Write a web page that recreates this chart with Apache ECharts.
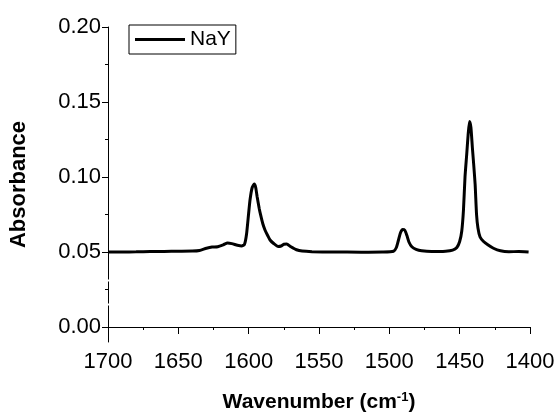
<!DOCTYPE html>
<html>
<head>
<meta charset="utf-8">
<script src="https://cdn.jsdelivr.net/npm/echarts@6/dist/echarts.min.js"></script>
<style>
  html, body { margin: 0; padding: 0; background: #fff; }
  #chart { width: 559px; height: 412px; }
</style>
</head>
<body>
<div id="chart"></div>
<script>
// wavenumber (cm-1) and absorbance
const wavenumbers = [
  1700, 1690, 1680, 1670, 1660, 1650, 1640, 1635, 1630, 1626, 1622, 1618, 1615, 1612, 1608, 1605,
  1603, 1601.5, 1600, 1599, 1597.5, 1596, 1595, 1594, 1592.5, 1591.5, 1590, 1588.4, 1586.5, 1584.8,
  1582, 1579, 1577, 1575, 1573, 1570, 1566, 1562, 1555, 1540, 1520, 1505, 1497, 1495, 1493.5, 1492,
  1490.5, 1489, 1487.5, 1486, 1484, 1481, 1477, 1470, 1460, 1455, 1452, 1450, 1448.5, 1447.3, 1446.2,
  1445, 1444, 1443, 1442, 1441, 1440, 1439, 1438, 1437, 1435.5, 1433, 1430, 1426, 1421, 1415, 1408,
  1404, 1401
];
const absorbance = [
  0.0500, 0.0500, 0.0501, 0.0503, 0.0504, 0.0505, 0.0506, 0.0510, 0.0525, 0.0533, 0.0535, 0.0548, 0.0560, 0.0556, 0.0545, 0.0540,
  0.0550, 0.0620, 0.0760, 0.0850, 0.0930, 0.0953, 0.0930, 0.0870, 0.0790, 0.0747, 0.0690, 0.0647, 0.0610, 0.0580,
  0.0555, 0.0537, 0.0540, 0.0552, 0.0553, 0.0535, 0.0515, 0.0506, 0.0502, 0.0500, 0.0499, 0.0500, 0.0505, 0.0530, 0.0580, 0.0630,
  0.0650, 0.0645, 0.0610, 0.0565, 0.0535, 0.0518, 0.0508, 0.0503, 0.0505, 0.0512, 0.0530, 0.0570, 0.0640, 0.0780, 0.1000,
  0.1150, 0.1280, 0.1370, 0.1330, 0.1200, 0.1080, 0.0950, 0.0750, 0.0660, 0.0600, 0.0570, 0.0548, 0.0525, 0.0508, 0.0502, 0.0503,
  0.0502, 0.0500
];
const yMajorTicks = [0, 0.05, 0.10, 0.15, 0.20];
const yMinorTicks = [0.025, 0.075, 0.125, 0.175];

const font = "'Liberation Sans', Arial, sans-serif";
const chart = echarts.init(document.getElementById("chart"));

const option = {
  animation: false,
  grid: { left: 108, right: 29, top: 27, bottom: 70, outerBoundsMode: "none", containLabel: false },
  legend: {
    left: 129,
    top: 25,
    padding: [4, 5, 4, 6],
    borderColor: "#000",
    borderWidth: 1,
    icon: "rect",
    itemWidth: 50,
    itemHeight: 3,
    textStyle: { fontFamily: font, fontSize: 21, color: "#000" },
    data: ["NaY"]
  },
  xAxis: {
    type: "value",
    inverse: true,
    min: 1400,
    max: 1700,
    interval: 50,
    name: "{a|Wavenumber (cm}{b|-1}{a|)}",
    nameLocation: "middle",
    nameGap: 49,
    nameTextStyle: {
      rich: {
        a: { fontFamily: font, fontSize: 21, fontWeight: "bold", color: "#000" },
        b: { fontFamily: font, fontSize: 13, fontWeight: "bold", color: "#000", verticalAlign: "top", padding: [0, 0, 10, 0] }
      }
    },
    axisLine: { lineStyle: { color: "#000", width: 1 } },
    axisTick: { inside: false, length: 7, lineStyle: { color: "#000" } },
    minorTick: { show: true, splitNumber: 2, length: 3, lineStyle: { color: "#000" } },
    axisLabel: { fontFamily: font, fontSize: 22, color: "#000", margin: 9, formatter: v => String(v) },
    splitLine: { show: false }
  },
  yAxis: [
    {
      type: "value",
      min: -0.01,
      max: 0.2,
      name: "Absorbance",
      nameLocation: "middle",
      nameGap: 78,
      nameTextStyle: { fontFamily: font, fontSize: 22, fontWeight: "bold", color: "#000" },
      axisLine: { show: true, lineStyle: { color: "#000", width: 1 } },
      axisTick: { show: true, length: 6, customValues: yMajorTicks, lineStyle: { color: "#000" } },
      axisLabel: {
        fontFamily: font, fontSize: 22, color: "#000", margin: 7,
        customValues: yMajorTicks,
        padding: [0, 0, 8, 0],
        formatter: v => v.toFixed(2)
      },
      splitLine: { show: false }
    },
    {
      type: "value",
      min: -0.01,
      max: 0.2,
      position: "left",
      axisLine: { show: false },
      axisTick: { show: true, length: 3, customValues: yMinorTicks, lineStyle: { color: "#000" } },
      axisLabel: { show: false },
      splitLine: { show: false }
    }
  ],
  series: [{
    name: "NaY",
    type: "line",
    showSymbol: false,
    symbol: "none",
    smooth: 0.2,
    lineStyle: { color: "#000", width: 3 },
    itemStyle: { color: "#000" },
    data: wavenumbers.map((w, i) => [w, absorbance[i]])
  }]
};
chart.setOption(option);

// little gaps in the y axis line, like the original
const axisX = chart.convertToPixel({ xAxisIndex: 0 }, 1700);
const gaps = [0.031, 0.015].map(v => {
  const y = chart.convertToPixel({ yAxisIndex: 0 }, v);
  return { type: "rect", shape: { x: axisX - 1.5, y: y - 1, width: 3, height: 2 }, style: { fill: "#fff" }, z: 100 };
});
chart.setOption({ graphic: gaps });
</script>
</body>
</html>
